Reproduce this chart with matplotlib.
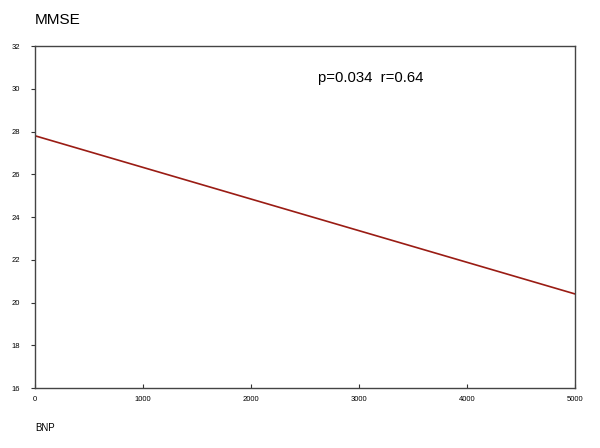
import matplotlib
matplotlib.use("Agg")
import matplotlib.pyplot as plt

bnp = [0, 5000]
mmse = [27.8, 20.4]
xticks = [0, 1000, 2000, 3000, 4000, 5000]
yticks = [16, 18, 20, 22, 24, 26, 28, 30, 32]

plt.rcParams['font.family'] = ['Liberation Sans', 'DejaVu Sans']
fig = plt.figure(figsize=(6, 4.48), dpi=100)
ax = fig.add_axes([35/600, 1-388/448, 540/600, 342/448])
ax.plot(bnp, mmse, color='#9a1c14', lw=1.2)
ax.set_xlim(0, 5000)
ax.set_ylim(16, 32)
ax.set_xticks(xticks)
ax.set_yticks(yticks)
ax.tick_params(axis='x', direction='in', length=3, labelsize=5.5, pad=6, colors='#333333', labelcolor='black')
ax.tick_params(axis='y', direction='out', length=3, labelsize=5.5, pad=8, colors='#333333', labelcolor='black')
for s in ax.spines.values():
    s.set_color('#444444')
    s.set_linewidth(1.0)
fig.text(35/600, 1-20/448, 'MMSE', fontsize=11, va='center', ha='left')
fig.text(35/600, 1-428/448, 'BNP', fontsize=7, va='center', ha='left')
ax.text(0.524, 0.905, 'p=0.034  r=0.64', transform=ax.transAxes, fontsize=10.7, va='center', ha='left')
fig.savefig('out.png', dpi=100)
